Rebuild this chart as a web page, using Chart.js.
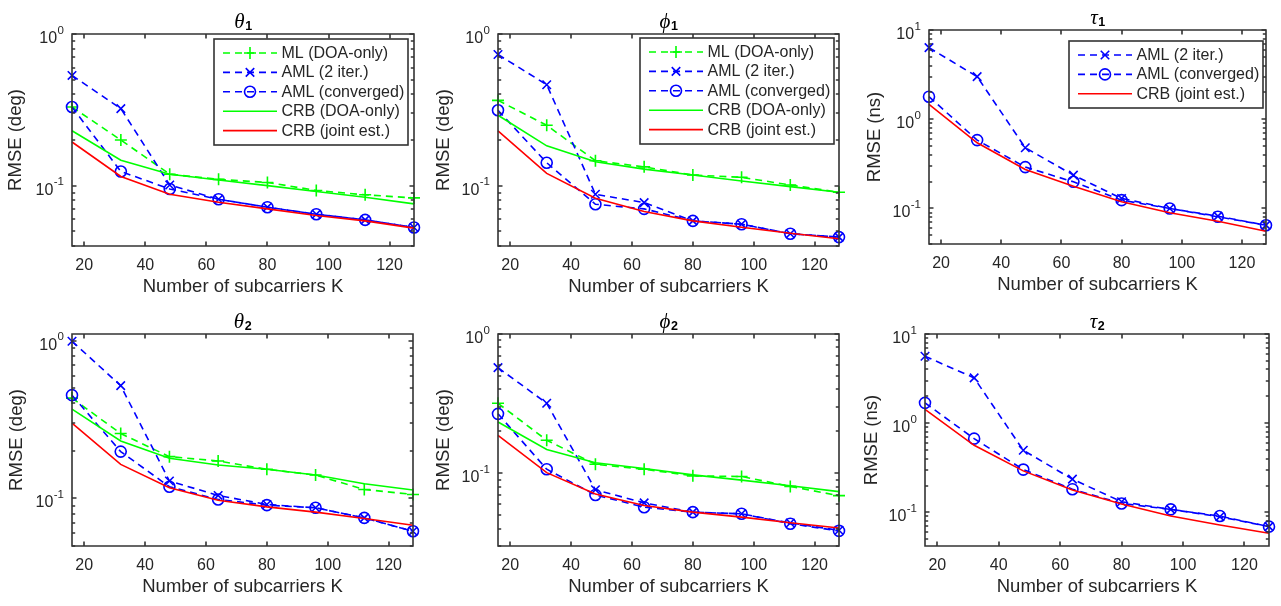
<!DOCTYPE html>
<html><head><meta charset="utf-8">
<script src="https://cdn.jsdelivr.net/npm/chart.js@4.4.1/dist/chart.umd.min.js"></script>
<style>
html,body{margin:0;padding:0;background:#fff;}
body{width:1281px;height:606px;position:relative;overflow:hidden;}
.cell{position:absolute;}
canvas{display:block;}
</style></head><body>
<script>
// ---------------- data ----------------
const K = [16, 32, 48, 64, 80, 96, 112, 128];
const xTicks = [20, 40, 60, 80, 100, 120];

// theta_1 (deg)
const t1_ML   = [0.330, 0.200, 0.119, 0.110, 0.105, 0.093, 0.087, 0.083];
const t1_AML2 = [0.533, 0.322, 0.101, 0.0813, 0.0721, 0.0648, 0.0595, 0.053];
const t1_AMLc = [0.330, 0.124, 0.0951, 0.0813, 0.0721, 0.0648, 0.0595, 0.053];
const t1_CRBd = [0.230, 0.147, 0.119, 0.109, 0.100, 0.0914, 0.0838, 0.0758];
const t1_CRBj = [0.194, 0.115, 0.0877, 0.0778, 0.0703, 0.0635, 0.0586, 0.0525];

// phi_1 (deg)
const p1_ML   = [0.365, 0.250, 0.146, 0.133, 0.1175, 0.1135, 0.101, 0.0904];
const p1_AML2 = [0.732, 0.463, 0.0877, 0.0773, 0.0586, 0.0557, 0.0482, 0.0458];
const p1_AMLc = [0.314, 0.1416, 0.0754, 0.0703, 0.0586, 0.0557, 0.0482, 0.0458];
const p1_CRBd = [0.291, 0.183, 0.1438, 0.1286, 0.1175, 0.1073, 0.0985, 0.0904];
const p1_CRBj = [0.2297, 0.1205, 0.0826, 0.0675, 0.0586, 0.0532, 0.0486, 0.0447];

// tau_1 (ns)
const u1_AML2 = [6.34, 3.0, 0.479, 0.2366, 0.1296, 0.100, 0.082, 0.065];
const u1_AMLc = [1.79, 0.584, 0.291, 0.199, 0.124, 0.100, 0.0807, 0.065];
const u1_CRBj = [1.466, 0.545, 0.274, 0.178, 0.119, 0.0894, 0.0721, 0.0557];

// theta_2 (deg)
const t2_ML   = [0.432, 0.2576, 0.184, 0.1727, 0.153, 0.1407, 0.114, 0.106];
const t2_AML2 = [0.99, 0.518, 0.129, 0.1045, 0.0916, 0.0873, 0.0753, 0.062];
const t2_AMLc = [0.451, 0.198, 0.1186, 0.0986, 0.0907, 0.0873, 0.0753, 0.062];
const t2_CRBd = [0.368, 0.2313, 0.1796, 0.163, 0.153, 0.1407, 0.124, 0.113];
const t2_CRBj = [0.2997, 0.1644, 0.117, 0.0975, 0.0885, 0.0819, 0.0746, 0.0677];

// phi_2 (deg)
const p2_ML   = [0.318, 0.1726, 0.116, 0.1068, 0.0957, 0.0947, 0.0804, 0.069];
const p2_AML2 = [0.573, 0.318, 0.0761, 0.0612, 0.0525, 0.0511, 0.0439, 0.0389];
const p2_AMLc = [0.267, 0.1068, 0.0698, 0.057, 0.0525, 0.0511, 0.0434, 0.0385];
const p2_CRBd = [0.233, 0.148, 0.119, 0.108, 0.0973, 0.0892, 0.0813, 0.0737];
const p2_CRBj = [0.1873, 0.101, 0.071, 0.0586, 0.0525, 0.0484, 0.0441, 0.0404];

// tau_2 (ns)
const u2_AML2 = [5.63, 3.22, 0.497, 0.2358, 0.1315, 0.108, 0.0895, 0.0692];
const u2_AMLc = [1.69, 0.671, 0.302, 0.182, 0.126, 0.108, 0.091, 0.0692];
const u2_CRBj = [1.43, 0.565, 0.292, 0.178, 0.124, 0.091, 0.0722, 0.0583];

// ---------------- styles ----------------
const AX = '#262626';
const FONT = '"Liberation Sans", Arial, Helvetica, sans-serif';
const GFONT = '"Liberation Serif", "DejaVu Serif", serif';
const DASH = [7, 5];
const STY = {
  ML:   {label: 'ML (DOA-only)',    color: '#00FF00', dash: true,  marker: 'cross',    r: 6},
  AML2: {label: 'AML (2 iter.)',    color: '#0000FF', dash: true,  marker: 'crossRot', r: 6},
  AMLc: {label: 'AML (converged)',  color: '#0000FF', dash: true,  marker: 'circle',   r: 5.5},
  CRBd: {label: 'CRB (DOA-only)',   color: '#00FF00', dash: false, marker: null,       r: 0},
  CRBj: {label: 'CRB (joint est.)', color: '#FF0000', dash: false, marker: null,       r: 0}
};

const panels = [
  {box: [0, 0, 430, 300],    area: [72, 34, 414, 246],   sym: 'θ', sub: '1', ylabel: 'RMSE (deg)', yr: [0.04, 1],
   keys: ['ML','AML2','AMLc','CRBd','CRBj'], data: [t1_ML, t1_AML2, t1_AMLc, t1_CRBd, t1_CRBj], legend: {top: 5, right: 6}, yTitleX: 16},
  {box: [430, 0, 430, 300],  area: [498, 34, 839, 246],  sym: 'ϕ', sub: '1', ylabel: 'RMSE (deg)', yr: [0.04, 1],
   keys: ['ML','AML2','AMLc','CRBd','CRBj'], data: [p1_ML, p1_AML2, p1_AMLc, p1_CRBd, p1_CRBj], legend: {top: 4, right: 5}, yTitleX: 14},
  {box: [860, 0, 421, 300],  area: [929, 30, 1266, 244], sym: 'τ', sub: '1', ylabel: 'RMSE (ns)', yr: [0.04, 10],
   keys: ['AML2','AMLc','CRBj'], data: [u1_AML2, u1_AMLc, u1_CRBj], legend: {top: 11, right: 3}, yTitleX: 15},
  {box: [0, 300, 430, 306],  area: [72, 334, 413, 546],  sym: 'θ', sub: '2', ylabel: 'RMSE (deg)', yr: [0.05, 1.1],
   keys: ['ML','AML2','AMLc','CRBd','CRBj'], data: [t2_ML, t2_AML2, t2_AMLc, t2_CRBd, t2_CRBj], legend: null, yTitleX: 17},
  {box: [430, 300, 430, 306],area: [498, 334, 839, 546], sym: 'ϕ', sub: '2', ylabel: 'RMSE (deg)', yr: [0.03, 1],
   keys: ['ML','AML2','AMLc','CRBd','CRBj'], data: [p2_ML, p2_AML2, p2_AMLc, p2_CRBd, p2_CRBj], legend: null, yTitleX: 14},
  {box: [860, 300, 421, 306],area: [925, 334, 1269, 546],sym: 'τ', sub: '2', ylabel: 'RMSE (ns)', yr: [0.042, 10],
   keys: ['AML2','AMLc','CRBj'], data: [u2_AML2, u2_AMLc, u2_CRBj], legend: null, yTitleX: 12}
];

// ---------------- drawing helpers ----------------
function drawMarker(ctx, type, x, y, r, color) {
  ctx.save();
  ctx.strokeStyle = color; ctx.lineWidth = 1.6; ctx.setLineDash([]);
  ctx.beginPath();
  if (type === 'cross') {
    ctx.moveTo(x - r, y); ctx.lineTo(x + r, y); ctx.moveTo(x, y - r); ctx.lineTo(x, y + r);
  } else if (type === 'crossRot') {
    const d = r * 0.7071;
    ctx.moveTo(x - d, y - d); ctx.lineTo(x + d, y + d); ctx.moveTo(x - d, y + d); ctx.lineTo(x + d, y - d);
  } else if (type === 'circle') {
    ctx.arc(x, y, r, 0, Math.PI * 2);
  }
  ctx.stroke();
  ctx.restore();
}

function makePlugin(p) {
  return {
    id: 'matlabAxes',
    afterDraw(chart) {
      const ctx = chart.ctx;
      const a = chart.chartArea;
      const xs = chart.scales.x, ys = chart.scales.y;
      ctx.save();
      ctx.setLineDash([]);
      ctx.strokeStyle = '#333333';
      ctx.lineWidth = 1.6;
      const L = Math.round(a.left), T = Math.round(a.top), R = Math.round(a.right), B = Math.round(a.bottom);
      ctx.beginPath();
      ctx.rect(L, T, R - L, B - T);
      // x ticks, inward on bottom and top
      xTicks.forEach(v => {
        const px = Math.round(xs.getPixelForValue(v));
        ctx.moveTo(px, B); ctx.lineTo(px, B - 4.5);
        ctx.moveTo(px, T); ctx.lineTo(px, T + 4.5);
      });
      ctx.stroke();
      // y ticks (log: major + minor), inward on left and right
      ctx.beginPath();
      ctx.lineWidth = 1.3;
      const ymin = p.yr[0], ymax = p.yr[1];
      const e0 = Math.floor(Math.log10(ymin)), e1 = Math.ceil(Math.log10(ymax));
      for (let e = e0; e <= e1; e++) {
        for (let m = 1; m <= 9; m++) {
          const v = m * Math.pow(10, e);
          if (v < ymin * 0.9999 || v > ymax * 1.0001) continue;
          const py = Math.round(ys.getPixelForValue(v));
          const len = m === 1 ? 4.5 : 3.2;
          ctx.moveTo(L, py); ctx.lineTo(L + len, py);
          ctx.moveTo(R, py); ctx.lineTo(R - len, py);
        }
      }
      ctx.stroke();
      // y tick labels 10^e
      ctx.fillStyle = AX;
      for (let e = e0; e <= e1; e++) {
        const v = Math.pow(10, e);
        if (v < ymin * 0.9999 || v > ymax * 1.0001) continue;
        const py = ys.getPixelForValue(v);
        const ex = (e < 0 ? '-' : '') + Math.abs(e);
        ctx.font = '11.5px ' + FONT;
        const ew = ctx.measureText(ex).width;
        ctx.font = '16px ' + FONT;
        const bw = ctx.measureText('10').width;
        const right = a.left - 8;
        ctx.textAlign = 'left'; ctx.textBaseline = 'alphabetic';
        ctx.fillText('10', right - ew - bw - 0.5, py + 9);
        ctx.font = '11.5px ' + FONT;
        ctx.fillText(ex, right - ew, py - 0.5);
      }
      // title
      const cx = (a.left + a.right) / 2;
      const by = a.top - 6;
      ctx.font = 'italic 21px ' + GFONT;
      const sw = ctx.measureText(p.sym).width;
      ctx.font = 'bold 12.5px ' + FONT;
      const subw = ctx.measureText(p.sub).width;
      const tx = cx - (sw + subw) / 2;
      ctx.fillStyle = '#000';
      ctx.font = 'italic 21px ' + GFONT;
      ctx.fillText(p.sym, tx, by);
      ctx.font = 'bold 12.5px ' + FONT;
      ctx.fillText(p.sub, tx + sw + 0.5, by + 1.5);
      // legend
      if (p.legend) {
        const n = p.keys.length, pitch = 19.4, w = 194;
        const h = Math.round(28 + (n - 1) * pitch);
        const lx = Math.round(a.right - p.legend.right - w), ly = Math.round(a.top + p.legend.top);
        ctx.fillStyle = '#fff';
        ctx.fillRect(lx, ly, w, h);
        ctx.strokeStyle = '#333333'; ctx.lineWidth = 1.6;
        ctx.strokeRect(lx, ly, w, h);
        p.keys.forEach((k, i) => {
          const s = STY[k];
          const yy = ly + 14 + i * pitch;
          ctx.save();
          ctx.strokeStyle = s.color; ctx.lineWidth = 1.6;
          ctx.setLineDash(s.dash ? DASH : []);
          ctx.beginPath(); ctx.moveTo(lx + 9, yy); ctx.lineTo(lx + 63, yy); ctx.stroke();
          ctx.restore();
          if (s.marker) drawMarker(ctx, s.marker, lx + 36, yy, s.r, s.color);
          ctx.fillStyle = AX;
          ctx.font = '16px ' + FONT;
          ctx.textAlign = 'left'; ctx.textBaseline = 'middle';
          ctx.fillText(s.label, lx + 67.5, yy + 0.5);
        });
      }
      ctx.restore();
    }
  };
}

// ---------------- build charts ----------------
panels.forEach((p) => {
  const [bx, by, bw, bh] = p.box;
  const [L, T, R, B] = p.area;
  const div = document.createElement('div');
  div.className = 'cell';
  div.style.left = bx + 'px'; div.style.top = by + 'px';
  div.style.width = bw + 'px'; div.style.height = bh + 'px';
  const cv = document.createElement('canvas');
  cv.width = bw; cv.height = bh;
  cv.style.width = bw + 'px'; cv.style.height = bh + 'px';
  div.appendChild(cv);
  document.body.appendChild(div);

  const n = p.keys.length;
  const datasets = p.keys.map((k, i) => {
    const s = STY[k];
    return {
      label: s.label,
      data: K.map((x, j) => ({x: x, y: p.data[i][j]})),
      borderColor: s.color,
      backgroundColor: 'rgba(0,0,0,0)',
      borderWidth: 1.6,
      borderDash: s.dash ? DASH : [],
      pointStyle: s.marker || 'circle',
      pointRadius: s.r,
      pointHoverRadius: s.r,
      pointBorderColor: s.color,
      pointBackgroundColor: 'rgba(0,0,0,0)',
      pointBorderWidth: 1.6,
      tension: 0,
      fill: false,
      clip: false,
      order: n - i
    };
  });

  const yW = L - bx, xH = by + bh - B;
  const lh = 18.5 * 1.2;
  new Chart(cv, {
    type: 'line',
    data: {datasets},
    options: {
      responsive: false,
      animation: false,
      events: [],
      layout: {padding: {left: 0, top: T - by, right: bx + bw - R, bottom: 0}},
      plugins: {legend: {display: false}, tooltip: {enabled: false}, title: {display: false}},
      scales: {
        x: {
          type: 'linear', min: 16, max: 128,
          grid: {display: false}, border: {display: false},
          afterBuildTicks: (s) => { s.ticks = xTicks.map(v => ({value: v})); },
          afterFit: (s) => { s.height = xH; },
          ticks: {color: AX, font: {family: FONT, size: 16}, padding: 2, autoSkip: false, maxRotation: 0},
          title: {display: true, text: 'Number of subcarriers K', color: AX,
                  font: {family: FONT, size: 18.5}, padding: {top: 0, bottom: (by + bh) - (B + 41) - lh / 2}}
        },
        y: {
          type: 'logarithmic', min: p.yr[0], max: p.yr[1],
          grid: {display: false}, border: {display: false},
          ticks: {display: false},
          afterFit: (s) => { s.width = yW; },
          title: {display: true, text: p.ylabel, color: AX,
                  font: {family: FONT, size: 18.5}, padding: {top: p.yTitleX - lh / 2, bottom: 0}}
        }
      }
    },
    plugins: [makePlugin(p)]
  });
});
</script>
</body></html>
